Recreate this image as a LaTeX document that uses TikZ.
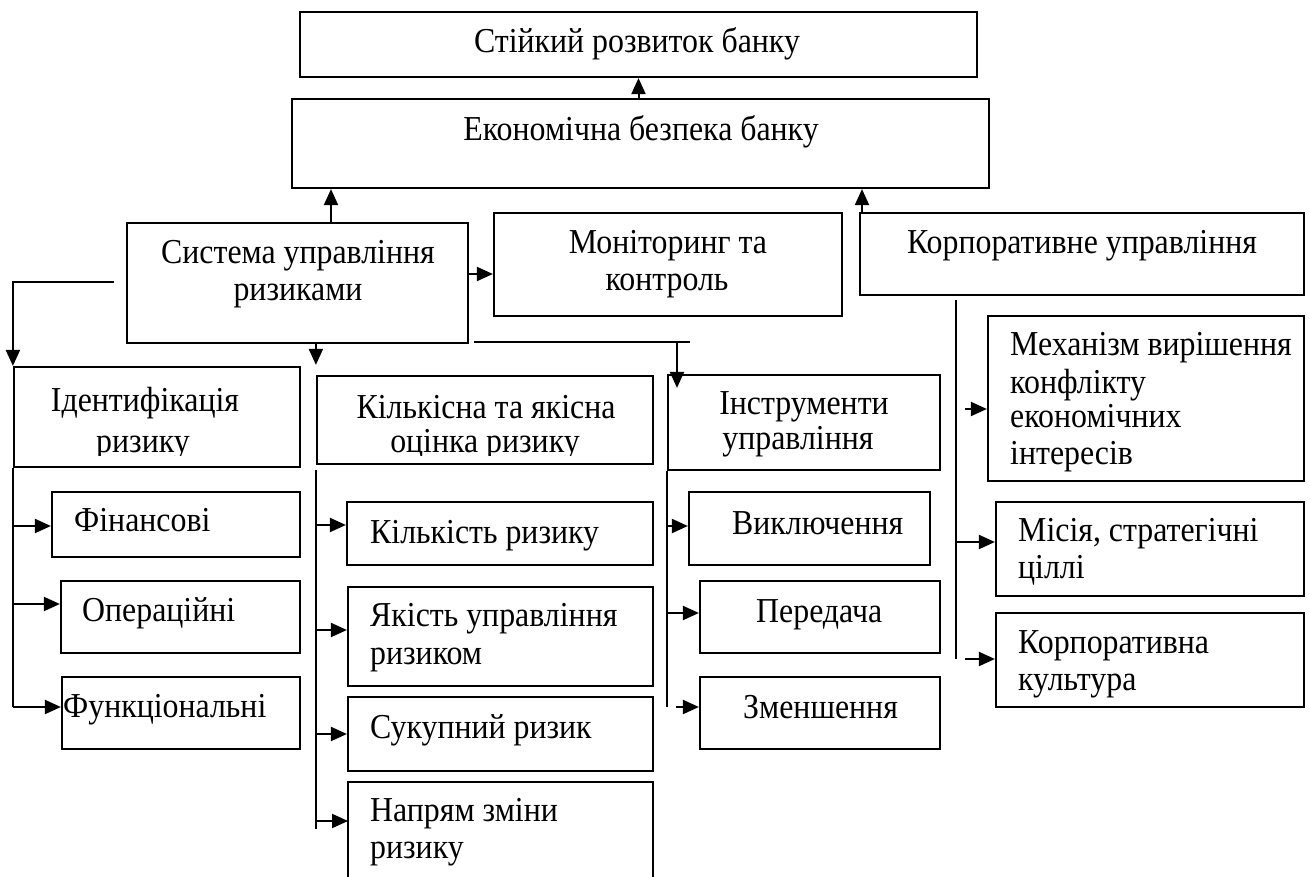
\documentclass[tikz,border=0pt]{standalone}
\usepackage{fontspec}
\setmainfont{Liberation Serif}[FakeStretch=0.91]
\usetikzlibrary{arrows.meta,fit,calc}
\newcommand\Ctext[4]{\node[txt,anchor=base] (#1) at (#2,#3) {#4};}
\newcommand\Ltext[4]{\node[txt,anchor=base west] (#1) at (#2,#3) {#4};}
\begin{document}
\begin{tikzpicture}[x=1pt,y=-1pt,
  box/.style={draw, line width=2.2pt, inner sep=0pt},
  txt/.style={inner sep=0pt, font=\fontsize{35}{40}\selectfont},
  ln/.style={line width=2pt},
  arr/.style={ln, -{Triangle[length=16pt,width=14pt]}},
]
\useasboundingbox[fill=white] (0,0) rectangle (1310,877);

% boxes
\node[box, fit={(300,12)(977,77)}] (top) {};
\node[box, fit={(292,99)(989,188)}] (econ) {};
\node[box, fit={(127,223)(468,343)}] (sys) {};
\node[box, fit={(494,213)(842,316)}] (mon) {};
\node[box, fit={(860,213)(1304,295)}] (korp) {};
\node[box, fit={(14,367)(300,467)}] (ident) {};
\node[box, fit={(317,376)(653,464)}] (kilk) {};
\node[box, fit={(668,375)(940,470)}] (instr) {};
\node[box, fit={(988,316)(1304,481)}] (mech) {};
\node[box, fit={(52,492)(300,557)}] (fin) {};
\node[box, fit={(61,581)(300,653)}] (oper) {};
\node[box, fit={(62,677)(300,749)}] (func) {};
\node[box, fit={(347,502)(653,565)}] (kr) {};
\node[box, fit={(348,587)(653,686)}] (yak) {};
\node[box, fit={(348,697)(653,771)}] (suk) {};
\node[inner sep=0pt, outer sep=0pt, fit={(348,782)(653,878)}] (napr) {};
\draw[line width=2.2pt] (napr.south west) -- (napr.north west) -- (napr.north east) -- (napr.south east);
\node[box, fit={(689,492)(930,565)}] (vykl) {};
\node[box, fit={(700,581)(940,653)}] (pered) {};
\node[box, fit={(700,677)(940,749)}] (zmen) {};
\node[box, fit={(996,502)(1304,596)}] (misia) {};
\node[box, fit={(996,613)(1304,707)}] (kult) {};

% named free ends
\coordinate (c1) at (114,282);
\coordinate (j0) at (474,342);
\coordinate (j1) at (677,342);
\coordinate (j2) at (690,342);
\coordinate (o1) at (12,604);
\coordinate (z1) at (676,707);
\coordinate (k0) at (956,300);
\coordinate (k1) at (965,409);
\coordinate (k3) at (965,659);

% connectors
\draw[arr] (econ.north -| top.south) -- (top.south);
\draw[arr] (sys.north -| 331,0) -- (econ.south -| 331,0);
\draw[arr] (korp.north -| 862,0) -- (econ.south -| 862,0);
\draw[arr] (sys.east |- 0,274) -- (mon.west |- 0,274);
\draw[arr] (c1) -| (ident.north west);
\draw[arr] (sys.south -| kilk.north west) -- ($(kilk.north west)+(0,-10)$);
\draw[ln] (j0) -- (j2);
\draw[arr] (j1) -- ($(instr.north -| j1)+(0,14)$);

\draw[ln] (ident.south west) -- (ident.south west |- 0,707);
\draw[arr] (ident.south west |- 0,526) -- (fin.west |- 0,526);
\draw[arr] (o1) -- (oper.west |- o1);
\draw[arr] (ident.south west |- 0,707) -- (func.west |- 0,707);

\draw[ln] (kilk.south west |- 0,470) -- (kilk.south west |- 0,829);
\draw[arr] (kilk.south west |- 0,525) -- (kr.west |- 0,525);
\draw[arr] (kilk.south west |- 0,630) -- (yak.west |- 0,630);
\draw[arr] (kilk.south west |- 0,734) -- (suk.west |- 0,734);
\draw[arr] (kilk.south west |- 0,821) -- (napr.west |- 0,821);

\draw[ln] (instr.south west) -- (instr.south west |- 0,707);
\draw[arr] (instr.south west |- 0,526) -- (vykl.west |- 0,526);
\draw[arr] (instr.south west |- 0,613) -- (pered.west |- 0,613);
\draw[arr] (z1) -- (zmen.west |- z1);

\draw[ln] (k0) -- (k0 |- k3);
\draw[arr] (k1) -- (mech.west |- k1);
\draw[arr] (k0 |- 0,542) -- (misia.west |- 0,542);
\draw[arr] (k3) -- (kult.west |- k3);

% texts
\Ctext{t1}{637}{53}{Стійкий розвиток банку}
\Ctext{t2}{641}{141}{Економічна безпека банку}
\Ctext{t3a}{298}{264}{Система управління}
\Ctext{t3b}{298}{301}{ризиками}
\Ctext{t4a}{668}{254}{Моніторинг та}
\Ctext{t4b}{667}{291}{контроль}
\Ctext{t5}{1082}{254}{Корпоративне управління}
\Ctext{t6a}{145}{411}{Ідентифікація}
\Ctext{t7a}{486}{418}{Кількісна та якісна}
\begin{scope}
\clip (0,0) rectangle (1310,455);
\Ctext{t6b}{143}{453}{ризику}
\Ctext{t7b}{485}{453}{оцінка ризику}
\end{scope}
\Ctext{t8a}{804}{414}{Інструменти}
\Ctext{t8b}{798}{449}{управління}
\Ltext{t9a}{1010}{356}{Механізм вирішення}
\Ltext{t9b}{1010}{393}{конфлікту}
\Ltext{t9c}{1010}{428}{економічних}
\Ltext{t9d}{1010}{464}{інтересів}
\Ltext{t10}{74}{531}{Фінансові}
\Ltext{t11}{82}{621}{Операційні}
\Ltext{t12}{63}{717}{Функціональні}
\Ltext{t13}{370}{543}{Кількість ризику}
\Ltext{t14a}{370}{626}{Якість управління}
\Ltext{t14b}{370}{664}{ризиком}
\Ltext{t15}{370}{738}{Сукупний ризик}
\Ltext{t16a}{370}{821}{Напрям зміни}
\Ltext{t16b}{370}{858}{ризику}
\Ltext{t17}{732}{534}{Виключення}
\Ltext{t18}{756}{622}{Передача}
\Ltext{t19}{743}{718}{Зменшення}
\Ltext{t20a}{1018}{541}{Місія, стратегічні}
\Ltext{t20b}{1018}{578}{ціллі}
\Ltext{t21a}{1018}{653}{Корпоративна}
\Ltext{t21b}{1018}{690}{культура}
\end{tikzpicture}
\end{document}
